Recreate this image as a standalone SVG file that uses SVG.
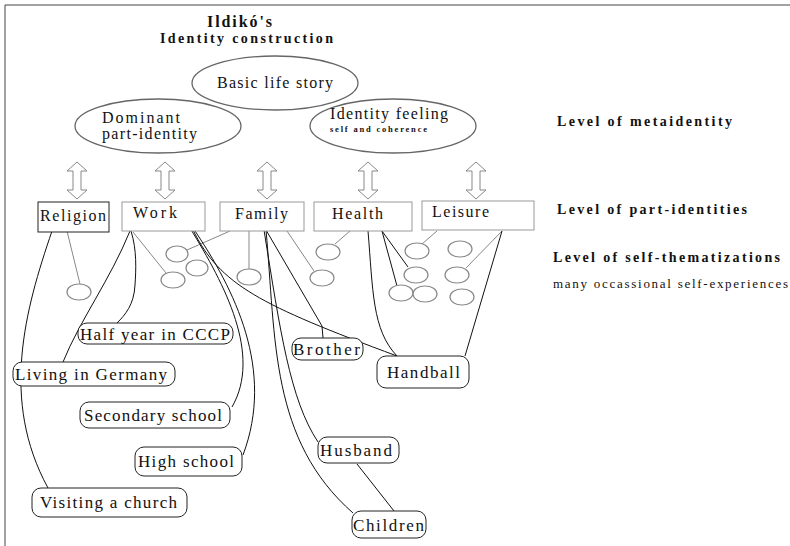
<svg xmlns="http://www.w3.org/2000/svg" width="790" height="546" viewBox="0 0 790 546">
  <defs>
    <style>
      .frame { stroke: #444; stroke-width: 1; fill: none; }
      .big { fill: #fff; stroke: #666; stroke-width: 1.3; }
      .box { fill: #fff; stroke: #999; stroke-width: 1; }
      .box-dark { fill: #fff; stroke: #222; stroke-width: 1; }
      .dbl { fill: #fff; stroke: #888; stroke-width: 1; }
      .small { fill: #fff; stroke: #888; stroke-width: 1.2; }
      .label { fill: #fff; stroke: #222; stroke-width: 1; }
      .ln { fill: none; stroke: #111; stroke-width: 1; }
      .lg { fill: none; stroke: #888; stroke-width: 1; }
      .t { font-family: "Liberation Serif", serif; fill: #111; }
      .tb { font-family: "Liberation Serif", serif; font-weight: bold; fill: #111; }
      .tn { font-family: "Liberation Serif", serif; fill: #111; font-size: 17px; }
    </style>
    <polygon id="dblarrow" class="dbl" points="0,162 10,171 4,171 4,190 10,190 0,199 -10,190 -4,190 -4,171 -10,171"/>
  </defs>

  <rect width="790" height="546" fill="#fff"/>
  <path class="frame" d="M5,546 V5 H790"/>

  <!-- Title -->
  <g id="title">
    <text class="tb" x="207" y="27" font-size="16" textLength="65" lengthAdjust="spacing">Ildikó's</text>
    <text class="tb" x="160" y="43" font-size="14" textLength="173" lengthAdjust="spacing">Identity construction</text>
  </g>

  <!-- Meta-identity ellipses -->
  <g id="basic-life-story">
    <ellipse class="big" cx="275" cy="83" rx="83" ry="27"/>
    <text class="t" x="217" y="88" font-size="16" textLength="116" lengthAdjust="spacing">Basic life story</text>
  </g>
  <g id="dominant">
    <ellipse class="big" cx="158" cy="126" rx="83" ry="27"/>
    <text class="t" x="102" y="123" font-size="16" textLength="78" lengthAdjust="spacing">Dominant</text>
    <text class="t" x="102" y="139" font-size="16" textLength="95" lengthAdjust="spacing">part-identity</text>
  </g>
  <g id="identity-feeling">
    <ellipse class="big" cx="393" cy="126" rx="83" ry="27"/>
    <text class="t" x="330" y="119" font-size="16" textLength="118" lengthAdjust="spacing">Identity feeling</text>
    <text class="tb" x="330" y="132" font-size="8.5" textLength="97" lengthAdjust="spacing">self and coherence</text>
  </g>

  <!-- Right-hand level captions -->
  <g id="levels">
    <text class="tb" x="557" y="126" font-size="14" textLength="175" lengthAdjust="spacing">Level of metaidentity</text>
    <text class="tb" x="557" y="214" font-size="14" textLength="190" lengthAdjust="spacing">Level of part-identities</text>
    <text class="tb" x="553" y="262" font-size="14" textLength="227" lengthAdjust="spacing">Level of self-thematizations</text>
    <text class="t" x="553" y="288" font-size="13" fill="#333" textLength="235" lengthAdjust="spacing">many occassional self-experiences</text>
  </g>

  <!-- Double arrows between levels -->
  <g id="double-arrows">
    <use href="#dblarrow" x="77"/>
    <use href="#dblarrow" x="165"/>
    <use href="#dblarrow" x="267"/>
    <use href="#dblarrow" x="368"/>
    <use href="#dblarrow" x="476"/>
  </g>

  <!-- Connectors -->
  <g id="connectors">
    <!-- to self-thematization circles -->
    <line class="lg" x1="67" y1="231" x2="80" y2="284"/>
    <line class="lg" x1="133" y1="232" x2="166" y2="273"/>
    <line class="lg" x1="230" y1="231" x2="187" y2="250"/>
    <line class="lg" x1="249" y1="231" x2="249" y2="269"/>
    <line class="lg" x1="287" y1="231" x2="314" y2="271"/>
    <line class="lg" x1="350" y1="231" x2="335" y2="244"/>
    <line class="lg" x1="437" y1="231" x2="422" y2="244"/>
    <line class="lg" x1="502" y1="231" x2="466" y2="268"/>
    <line class="ln" x1="382" y1="231" x2="408" y2="267"/>
    <line class="ln" x1="382" y1="231" x2="397" y2="286"/>

    <!-- Religion -->
    <path class="ln" d="M52,231 C25,310 0,400 48,488"/>
    <!-- Work -->
    <path class="ln" d="M130,231 C110,280 80,320 63,362"/>
    <path class="ln" d="M131,231 C137,250 136,270 135,285 C134,305 125,315 117,323"/>
    <path class="ln" d="M190,228 C225,285 262,355 232,407"/>
    <path class="ln" d="M193,228 C235,290 275,370 243,455"/>
    <path class="ln" d="M193,230 C220,285 260,305 397,356"/>
    <!-- Family -->
    <path class="ln" d="M264,230 C280,330 290,400 318,442"/>
    <path class="ln" d="M266,230 C276,340 270,440 353,513"/>
    <path class="ln" d="M266,230 L322,326 L323,338"/>
    <line class="ln" x1="357" y1="464" x2="394" y2="511"/>
    <!-- Health -->
    <path class="ln" d="M368,231 C373,290 372,330 397,356"/>
    <!-- Leisure -->
    <line class="ln" x1="502" y1="231" x2="465" y2="356"/>
  </g>

  <!-- Part-identity boxes -->
  <g id="religion">
    <rect class="box-dark" x="38" y="202" width="71" height="30"/>
    <text class="t" x="40" y="221" font-size="16" textLength="66" lengthAdjust="spacing">Religion</text>
  </g>
  <g id="work">
    <rect class="box" x="122" y="202" width="83" height="29"/>
    <text class="t" x="133" y="218" font-size="16" textLength="44" lengthAdjust="spacing">Work</text>
  </g>
  <g id="family">
    <rect class="box" x="220" y="202" width="84" height="29"/>
    <text class="t" x="235" y="219" font-size="16" textLength="53" lengthAdjust="spacing">Family</text>
  </g>
  <g id="health">
    <rect class="box" x="314" y="202" width="98" height="29"/>
    <text class="t" x="332" y="219" font-size="16" textLength="51" lengthAdjust="spacing">Health</text>
  </g>
  <g id="leisure">
    <rect class="box" x="422" y="201" width="112" height="29"/>
    <text class="t" x="432" y="217" font-size="16" textLength="57" lengthAdjust="spacing">Leisure</text>
  </g>

  <!-- Self-thematization circles -->
  <g id="self-thematizations">
    <ellipse class="small" cx="79" cy="292" rx="12" ry="8"/>
    <ellipse class="small" cx="177" cy="254" rx="11" ry="8"/>
    <ellipse class="small" cx="197" cy="268" rx="11" ry="8"/>
    <ellipse class="small" cx="173" cy="280" rx="12" ry="8"/>
    <ellipse class="small" cx="249" cy="277" rx="12" ry="8"/>
    <ellipse class="small" cx="322" cy="278" rx="12" ry="8"/>
    <ellipse class="small" cx="328" cy="252" rx="12" ry="8"/>
    <ellipse class="small" cx="417" cy="251" rx="12" ry="8"/>
    <ellipse class="small" cx="460" cy="249" rx="12" ry="8"/>
    <ellipse class="small" cx="416" cy="275" rx="12" ry="8"/>
    <ellipse class="small" cx="457" cy="275" rx="12" ry="8"/>
    <ellipse class="small" cx="401" cy="293" rx="12" ry="8"/>
    <ellipse class="small" cx="425" cy="294" rx="12" ry="8"/>
    <ellipse class="small" cx="462" cy="297" rx="12" ry="8"/>
  </g>

  <!-- Named self-thematizations -->
  <g id="half-year-cccp">
    <rect class="label" x="78" y="323" width="155" height="21" rx="9"/>
    <text class="tn" x="80" y="340" textLength="150" lengthAdjust="spacing">Half year in CCCP</text>
  </g>
  <g id="living-in-germany">
    <rect class="label" x="13" y="362" width="162" height="24" rx="9"/>
    <text class="tn" x="15" y="380" textLength="152" lengthAdjust="spacing">Living in Germany</text>
  </g>
  <g id="secondary-school">
    <rect class="label" x="80" y="402" width="150" height="26" rx="9"/>
    <text class="tn" x="84" y="421" textLength="138" lengthAdjust="spacing">Secondary school</text>
  </g>
  <g id="high-school">
    <rect class="label" x="135" y="447" width="107" height="29" rx="9"/>
    <text class="tn" x="138" y="467" textLength="96" lengthAdjust="spacing">High school</text>
  </g>
  <g id="visiting-church">
    <rect class="label" x="32" y="488" width="155" height="29" rx="9"/>
    <text class="tn" x="40" y="508" textLength="137" lengthAdjust="spacing">Visiting a church</text>
  </g>
  <g id="brother">
    <rect class="label" x="292" y="338" width="71" height="22" rx="9"/>
    <text class="tn" x="293" y="355" textLength="67" lengthAdjust="spacing">Brother</text>
  </g>
  <g id="handball">
    <rect class="label" x="377" y="356" width="92" height="32" rx="9"/>
    <text class="tn" x="387" y="378" textLength="73" lengthAdjust="spacing">Handball</text>
  </g>
  <g id="husband">
    <rect class="label" x="318" y="437" width="81" height="26" rx="9"/>
    <text class="tn" x="320" y="456" textLength="72" lengthAdjust="spacing">Husband</text>
  </g>
  <g id="children">
    <rect class="label" x="352" y="511" width="74" height="27" rx="9"/>
    <text class="tn" x="353" y="531" textLength="71" lengthAdjust="spacing">Children</text>
  </g>
</svg>
